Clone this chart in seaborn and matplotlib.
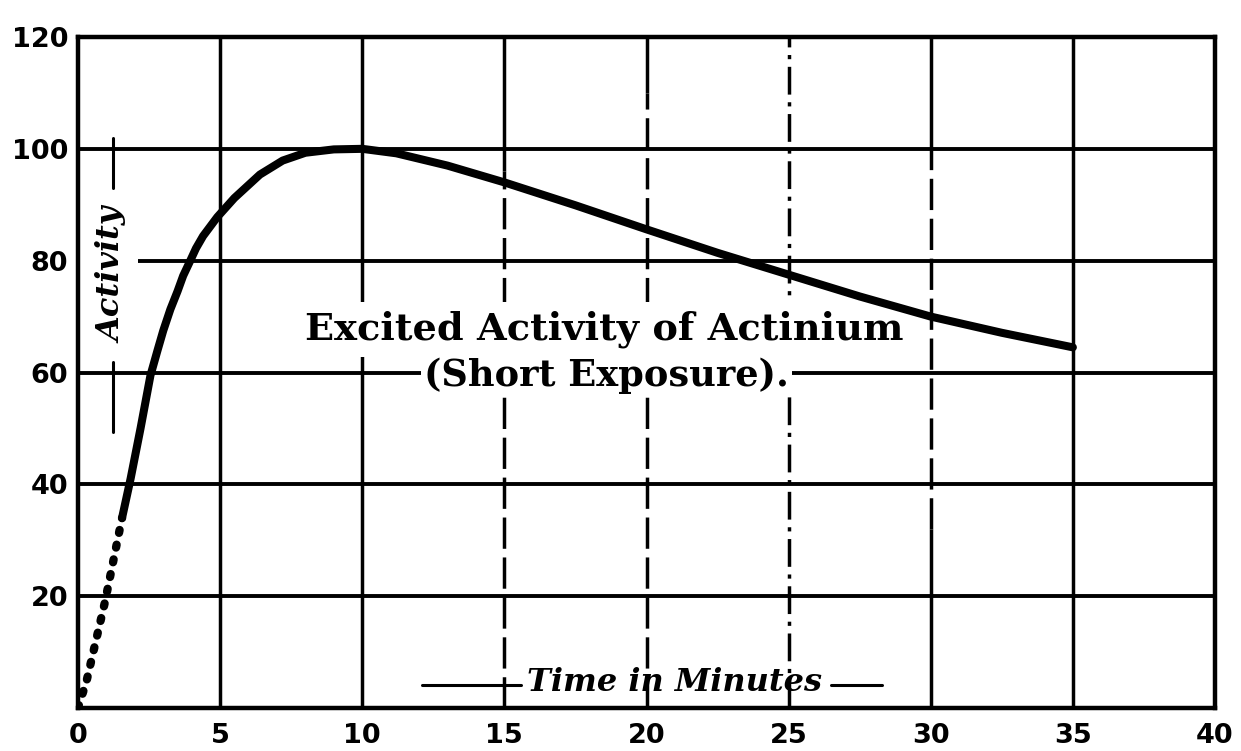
import numpy as np
import pandas as pd
import seaborn as sns
import matplotlib.pyplot as plt

# Excited activity of actinium after a short exposure (activity vs. minutes)
rise_minutes = [0.0, 0.3, 0.95, 1.55]
rise_activity = [0.0, 4.8, 19.0, 34.0]

curve_minutes = [1.55, 1.85, 2.2, 2.55, 2.8, 3.0, 3.25, 3.5, 3.7, 3.95, 4.15, 4.4,
                 4.9, 5.5, 6.4, 7.2, 8.0, 9.0, 10.0, 11.2, 13.0, 15.0, 17.5, 20.0,
                 22.5, 25.0, 27.5, 30.0, 32.5, 35.0]
curve_activity = [34.0, 41.0, 50.0, 59.5, 64.0, 67.5, 71.3, 74.5, 77.3, 80.0, 82.2, 84.4,
                  87.8, 91.2, 95.4, 97.9, 99.3, 99.9, 100.0, 99.2, 97.0, 94.0, 89.9, 85.6,
                  81.4, 77.5, 73.6, 70.0, 67.1, 64.5]

x_ticks = [0, 5, 10, 15, 20, 25, 30, 35, 40]
y_ticks = [20, 40, 60, 80, 100, 120]

title_line1 = "Excited Activity of Actinium"
title_line2 = "(Short Exposure)."
x_label = "Time in Minutes"
y_label = "Activity"

sns.set_style("white")
plt.rcParams["font.family"] = ["DejaVu Sans"]

fig = plt.figure(figsize=(12.41, 7.51), dpi=100)
ax = fig.add_axes([78 / 1241, 43 / 751, (1215 - 78) / 1241, (708 - 37) / 751])
ax.set_xlim(0, 40)
ax.set_ylim(0, 120)

ink = "black"
grid_lw = 2.5

# horizontal rules (the 80 rule leaves room for the axis caption)
for yv in y_ticks[:-1]:
    x0 = 2.1 if yv == 80 else 0
    ax.hlines(yv, x0, 40, color=ink, lw=2.8, zorder=1)

# vertical rules: solid, dashed and dash-dot pieces as engraved
dash = (0, (9, 2.5))
dashdot = (0, (8, 2.2, 1.2, 2.2))
vertical_rules = [
    (5, [(0, 120, "-")]),
    (10, [(0, 120, "-")]),
    (15, [(96, 120, "-"), (0, 96, dash)]),
    (20, [(110, 120, "-"), (0, 110, dash)]),
    (25, [(0, 120, dashdot)]),
    (30, [(100, 120, "-"), (32, 100, dash), (0, 32, "-")]),
    (35, [(0, 120, "-")]),
]
for xv, pieces in vertical_rules:
    for y0, y1, ls in pieces:
        ax.plot([xv, xv], [y0, y1], color=ink, lw=grid_lw, ls=ls, zorder=1,
                solid_capstyle="butt")

# the activity curve: dotted extrapolation near zero, then the measured curve
sns.lineplot(x=rise_minutes, y=rise_activity, ax=ax, color=ink, lw=6.0,
             linestyle=(0, (0.35, 1.45)), dash_capstyle="round", zorder=3)
sns.lineplot(x=curve_minutes, y=curve_activity, ax=ax, color=ink, lw=5.8,
             solid_capstyle="round", solid_joinstyle="round", zorder=3)

# frame
for side in ["left", "right", "top", "bottom"]:
    ax.spines[side].set_visible(True)
    ax.spines[side].set_color(ink)
    ax.spines[side].set_linewidth(3.2)

ax.set_xticks(x_ticks)
ax.set_yticks(y_ticks)
ax.set_xticklabels([str(v) for v in x_ticks])
ax.set_yticklabels([str(v) for v in y_ticks])
ax.tick_params(axis="both", length=0, labelsize=19.5, colors=ink)
ax.tick_params(axis="y", pad=7)
ax.tick_params(axis="x", pad=11)
for lab in ax.get_xticklabels() + ax.get_yticklabels():
    lab.set_fontweight("bold")
ax.set_xlabel("")
ax.set_ylabel("")

# title block inside the grid
ax.text(18.5, 67.7, title_line1, ha="center", va="center", fontsize=27.5,
        fontweight="bold", family="DejaVu Serif", color=ink, zorder=2.5,
        bbox=dict(facecolor="white", edgecolor="none", pad=6))
ax.text(18.6, 59.5, title_line2, ha="center", va="center", fontsize=26.5,
        fontweight="bold", family="DejaVu Serif", color=ink, zorder=2.5,
        bbox=dict(facecolor="white", edgecolor="none", pad=2))

# axis captions with their flanking rules
ax.text(21.0, 4.5, x_label, ha="center", va="center", fontsize=23,
        fontweight="bold", fontstyle="italic", family="DejaVu Serif",
        color=ink, zorder=2.5)
ax.plot([12.1, 15.6], [4.1, 4.1], color=ink, lw=2.2, zorder=2)
ax.plot([26.5, 28.3], [4.1, 4.1], color=ink, lw=2.2, zorder=2)

ax.text(1.23, 77.4, y_label, ha="center", va="center", rotation=90, fontsize=23,
        fontweight="bold", fontstyle="italic", family="DejaVu Serif",
        color=ink, zorder=2.5)
ax.plot([1.23, 1.23], [93.0, 102.0], color=ink, lw=2.2, zorder=2)
ax.plot([1.23, 1.23], [49.3, 61.8], color=ink, lw=2.2, zorder=2)

fig.savefig("out.png", dpi=100, facecolor="white")
